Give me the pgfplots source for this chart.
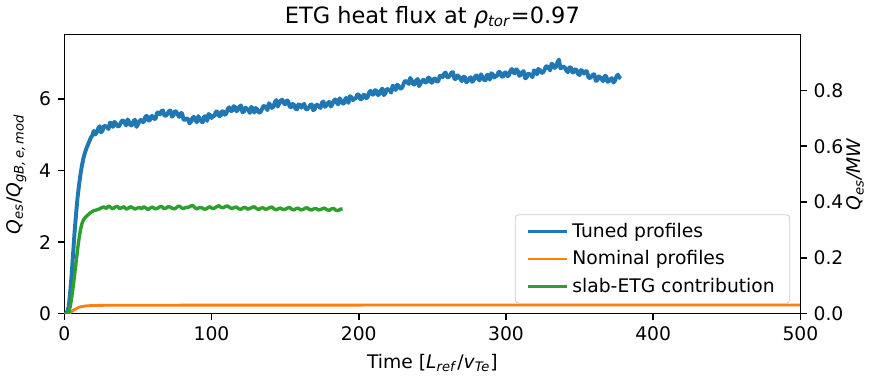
\documentclass[border=0pt]{standalone}
\usepackage{pgfplots}
\pgfplotsset{compat=1.18}
\usepackage{fontspec}
\setmainfont{DejaVu Sans}
\definecolor{tabblue}{HTML}{1F77B4}
\definecolor{taborange}{HTML}{FF7F0E}
\definecolor{tabgreen}{HTML}{2CA02C}
\begin{document}
\begin{tikzpicture}
\pgfplotsset{
  every axis/.append style={
    scale only axis, width=393pt, height=149pt,
    xmin=0, xmax=500,
    /pgf/number format/assume math mode=true,
    tick align=outside, major tick length=3.5pt,
    every tick/.style={black, line width=0.8pt},
    axis line style={line width=0.8pt},
    tick label style={font=\fontsize{10}{12}\selectfont},
    label style={font=\fontsize{10}{12}\selectfont},
  }
}
\begin{axis}[
  ymin=0, ymax=7.8,
  xtick={0,100,200,300,400,500},
  ytick={0,2,4,6},
  xtick pos=bottom, ytick pos=left,
  title={ETG heat flux at \textit{ρ}\textsubscript{\textit{tor}}=0.97},
  title style={font=\fontsize{12}{14}\selectfont, yshift=-6pt},
  xlabel={Time [\textit{L}\textsubscript{\textit{ref}}/\textit{v}\textsubscript{\textit{Te}}]},
  ylabel={\textit{Q}\textsubscript{\textit{es}}/\textit{Q}\textsubscript{\textit{gB,\,e,\,mod}}},
  legend cell align=left,
  legend style={at={(0.986,0.036)}, anchor=south east, draw=black!20, rounded corners=2pt,
    fill=white, fill opacity=0.8, text opacity=1, font=\fontsize{10}{12}\selectfont,
    row sep=1.5pt, inner xsep=6pt, inner ysep=2.5pt},
  legend image code/.code={\draw[#1, line width=1.5pt] (0cm,0cm) -- (0.74cm,0cm);},
  clip=true,
]
\addplot[tabblue, line width=2.1pt, line join=round] coordinates {
(0,0)(1.5,0)(3,0.2)(4,0.6)(5,1.1)(6,1.7)(7,2.3)(8,2.8)(9,3.25)(10,3.6)(11,3.9)(12,4.15)(13,4.35)(14,4.5)(15,4.62)(16,4.72)(17,4.82)(18,4.92)(19,4.98)
(20,5.11)(21,5.01)(22,5.06)(23,5.18)(24,5.24)(25,5.07)(26,5.12)(27,5.25)(28,5.24)(29,5.22)
(30,5.16)(31,5.34)(32,5.32)(33,5.22)(34,5.36)(35,5.32)(36,5.25)(37,5.23)(38,5.30)(39,5.39)
(40,5.40)(41,5.33)(42,5.26)(43,5.43)(44,5.36)(45,5.26)(46,5.27)(47,5.38)(48,5.42)(49,5.22)
(50,5.29)(51,5.38)(52,5.42)(53,5.36)(54,5.36)(55,5.50)(56,5.53)(57,5.40)(58,5.40)(59,5.52)
(60,5.52)(61,5.44)(62,5.45)(63,5.62)(64,5.62)(65,5.57)(66,5.66)(67,5.68)(68,5.54)(69,5.53)
(70,5.58)(71,5.66)(72,5.68)(73,5.51)(74,5.53)(75,5.66)(76,5.65)(77,5.57)(78,5.50)(79,5.61)
(80,5.60)(81,5.42)(82,5.42)(83,5.45)(84,5.45)(85,5.32)(86,5.36)(87,5.47)(88,5.50)(89,5.41)
(90,5.35)(91,5.52)(92,5.45)(93,5.37)(94,5.35)(95,5.51)(96,5.52)(97,5.39)(98,5.58)(99,5.55)
(100,5.47)(101,5.52)(102,5.53)(103,5.65)(104,5.65)(105,5.53)(106,5.52)(107,5.65)(108,5.66)(109,5.56)
(110,5.59)(111,5.72)(112,5.77)(113,5.67)(114,5.66)(115,5.80)(116,5.78)(117,5.66)(118,5.70)(119,5.79)
(120,5.82)(121,5.63)(122,5.65)(123,5.76)(124,5.73)(125,5.69)(126,5.61)(127,5.78)(128,5.74)(129,5.62)
(130,5.75)(131,5.71)(132,5.63)(133,5.62)(134,5.69)(135,5.79)(136,5.81)(137,5.75)(138,5.69)(139,5.88)
(140,5.83)(141,5.75)(142,5.78)(143,5.91)(144,5.97)(145,5.79)(146,5.88)(147,5.96)(148,5.98)(149,5.89)
(150,5.85)(151,5.96)(152,5.95)(153,5.79)(154,5.77)(155,5.86)(156,5.84)(157,5.73)(158,5.71)(159,5.85)
(160,5.83)(161,5.76)(162,5.84)(163,5.86)(164,5.72)(165,5.71)(166,5.76)(167,5.83)(168,5.85)(169,5.69)
(170,5.71)(171,5.84)(172,5.83)(173,5.79)(174,5.75)(175,5.90)(176,5.93)(177,5.78)(178,5.82)(179,5.89)
(180,5.92)(181,5.79)(182,5.84)(183,5.95)(184,5.99)(185,5.90)(186,5.85)(187,6.02)(188,5.96)(189,5.88)
(190,5.87)(191,6.02)(192,6.03)(193,5.89)(194,6.08)(195,6.05)(196,5.97)(197,6.01)(198,6.02)(199,6.13)
(200,6.12)(201,6.00)(202,5.99)(203,6.11)(204,6.12)(205,6.02)(206,6.05)(207,6.18)(208,6.23)(209,6.13)
(210,6.12)(211,6.25)(212,6.23)(213,6.11)(214,6.14)(215,6.24)(216,6.29)(217,6.11)(218,6.15)(219,6.28)
(220,6.27)(221,6.24)(222,6.18)(223,6.37)(224,6.35)(225,6.25)(226,6.40)(227,6.37)(228,6.30)(229,6.29)
(230,6.37)(231,6.48)(232,6.51)(233,6.46)(234,6.42)(235,6.59)(236,6.52)(237,6.41)(238,6.41)(239,6.52)
(240,6.56)(241,6.36)(242,6.43)(243,6.51)(244,6.54)(245,6.47)(246,6.46)(247,6.59)(248,6.60)(249,6.46)
(250,6.46)(251,6.57)(252,6.57)(253,6.49)(254,6.49)(255,6.65)(256,6.65)(257,6.61)(258,6.71)(259,6.74)
(260,6.61)(261,6.61)(262,6.67)(263,6.74)(264,6.75)(265,6.56)(266,6.56)(267,6.66)(268,6.63)(269,6.56)
(270,6.50)(271,6.62)(272,6.62)(273,6.47)(274,6.50)(275,6.57)(276,6.61)(277,6.48)(278,6.52)(279,6.63)
(280,6.66)(281,6.57)(282,6.52)(283,6.69)(284,6.62)(285,6.54)(286,6.52)(287,6.67)(288,6.68)(289,6.54)
(290,6.72)(291,6.69)(292,6.60)(293,6.64)(294,6.65)(295,6.76)(296,6.75)(297,6.63)(298,6.62)(299,6.74)
(300,6.74)(301,6.64)(302,6.66)(303,6.79)(304,6.84)(305,6.74)(306,6.72)(307,6.83)(308,6.79)(309,6.65)
(310,6.67)(311,6.75)(312,6.78)(313,6.58)(314,6.60)(315,6.71)(316,6.69)(317,6.67)(318,6.61)(319,6.80)
(320,6.78)(321,6.69)(322,6.84)(323,6.81)(324,6.74)(325,6.73)(326,6.80)(327,6.90)(328,6.92)(329,6.86)
(330,6.80)(331,6.99)(332,6.95)(333,6.87)(334,6.90)(335,7.03)(336,7.10)(337,6.86)(338,6.88)(339,6.91)
(340,6.88)(341,6.79)(342,6.75)(343,6.88)(344,6.89)(345,6.75)(346,6.74)(347,6.83)(348,6.81)(349,6.70)
(350,6.67)(351,6.81)(352,6.78)(353,6.71)(354,6.78)(355,6.77)(356,6.61)(357,6.58)(358,6.62)(359,6.68)
(360,6.69)(361,6.51)(362,6.52)(363,6.63)(364,6.61)(365,6.55)(366,6.50)(367,6.64)(368,6.65)(369,6.48)
(370,6.50)(371,6.56)(372,6.58)(373,6.46)(374,6.51)(375,6.63)(376,6.68)(377,6.60)(378,6.57)
};
\addlegendentry{Tuned profiles}
\addplot[taborange, line width=1.5pt] coordinates {
(0,0)(3,0)(4,0.03)(6,0.09)(8,0.14)(10,0.18)(12,0.20)(15,0.22)(20,0.23)(30,0.235)(100,0.24)(200,0.24)(300,0.245)(400,0.245)(500,0.245)
};
\addlegendentry{Nominal profiles}
\addplot[tabgreen, line width=1.8pt, line join=round] coordinates {
(0,0)(2,0)(3,0.02)(4,0.2)(5,0.45)(6,0.75)(7,1.1)(8,1.45)(9,1.8)(10,2.1)(11,2.35)(12,2.52)(13,2.62)(14,2.68)(16,2.76)(18,2.83)(20,2.88)(22,2.90)
(24,2.93)(25.5,2.97)(27,2.98)(28.5,2.94)(30,3.01)(31.5,2.97)(33,2.93)(34.5,2.98)(36,3.00)(37.5,2.94)(39,2.96)(40.5,2.99)(42,2.92)(43.5,2.95)(45,2.99)(46.5,2.96)(48,2.92)(49.5,2.95)(51,2.97)(52.5,2.93)
(54,2.99)(55.5,2.95)(57,2.91)(58.5,2.96)(60,2.98)(61.5,2.93)(63,2.94)(64.5,2.98)(66,3.00)(67.5,2.94)(69,2.95)(70.5,2.99)(72,2.98)(73.5,2.94)(75,2.93)(76.5,2.98)(78,3.01)(79.5,2.96)(81,2.94)(82.5,2.97)
(84,2.97)(85.5,3.00)(87,3.03)(88.5,2.97)(90,2.93)(91.5,2.96)(93,2.97)(94.5,2.93)(96,2.92)(97.5,2.96)(99,2.99)(100.5,2.94)(102,2.95)(103.5,2.99)(105,3.02)(106.5,2.97)(108,2.96)(109.5,3.00)(111,3.01)(112.5,2.96)
(114,2.94)(115.5,2.97)(117,2.98)(118.5,2.93)(120,2.92)(121.5,2.96)(123,2.97)(124.5,2.92)(126,2.94)(127.5,2.97)(129,2.99)(130.5,2.94)(132,2.91)(133.5,2.95)(135,2.96)(136.5,2.92)(138,2.93)(139.5,2.97)(141,2.98)(142.5,2.93)
(144,2.90)(145.5,2.94)(147,2.95)(148.5,2.91)(150,2.92)(151.5,2.95)(153,2.97)(154.5,2.92)(156,2.90)(157.5,2.94)(159,2.95)(160.5,2.90)(162,2.91)(163.5,2.95)(165,2.96)(166.5,2.91)(168,2.90)(169.5,2.93)(171,2.94)(172.5,2.90)
(174,2.91)(175.5,2.94)(177,2.95)(178.5,2.90)(180,2.89)(181.5,2.93)(183,2.94)(184.5,2.89)(186,2.88)(187.5,2.92)(189,2.93)
};
\addlegendentry{slab-ETG contribution}
\end{axis}
\begin{axis}[
  ymin=0, ymax=1.0,
  axis y line*=right, axis x line=none,
  ytick={0,0.2,0.4,0.6,0.8},
  yticklabel style={/pgf/number format/.cd, fixed, fixed zerofill, precision=1},
  ylabel={\textit{Q}\textsubscript{\textit{es}}\textit{/MW}},
  ylabel style={yshift=5pt},
]
\addplot[draw=none] coordinates {(0,0)};
\end{axis}
\end{tikzpicture}
\end{document}
